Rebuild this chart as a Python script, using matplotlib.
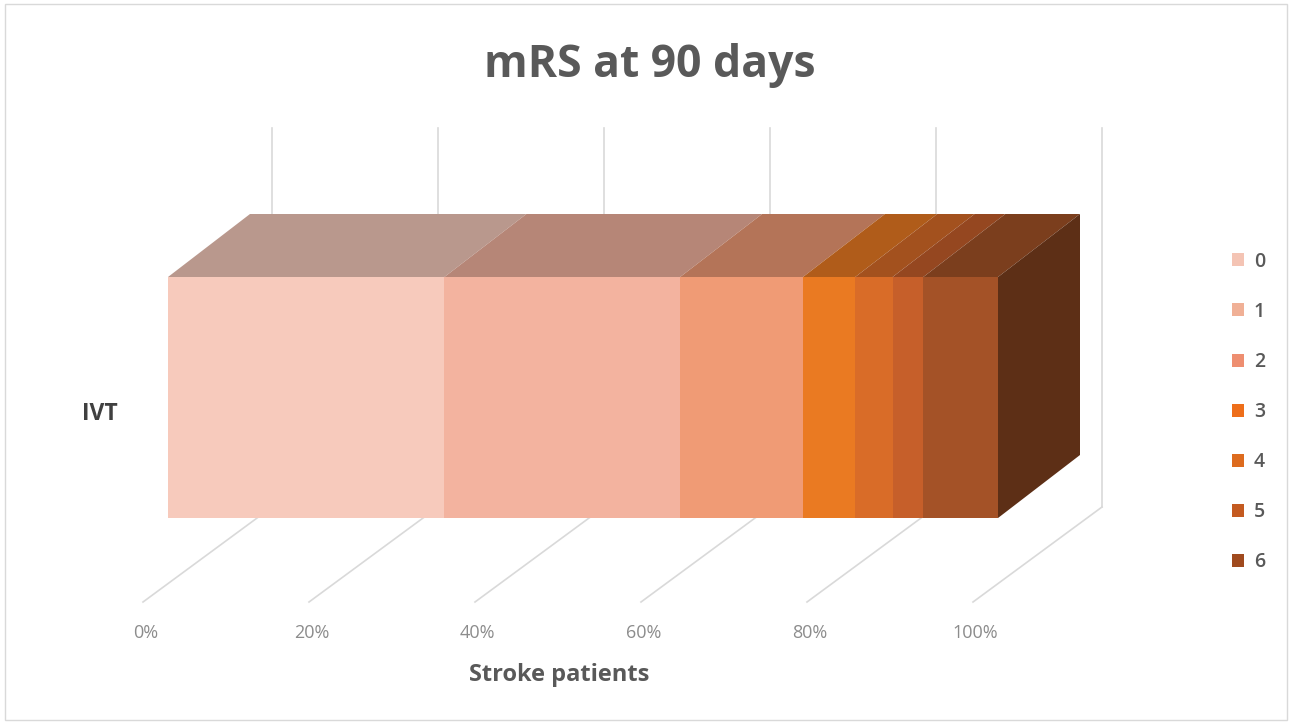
import numpy as np
import matplotlib.pyplot as plt
from matplotlib.patches import Polygon, Patch, Rectangle

# data (share of stroke patients per mRS score at 90 days, %)
categories = ['IVT']
mrs_labels = ['0', '1', '2', '3', '4', '5', '6']
mrs_values = [33.3, 28.4, 14.8, 6.3, 4.5, 3.7, 9.0]
tick_values = [0, 20, 40, 60, 80, 100]
tick_labels = ['0%', '20%', '40%', '60%', '80%', '100%']

front_colors = ['#F7CABC', '#F3B39F', '#F09B75', '#EA7A22', '#D96C28', '#C65F2A', '#A45227']
legend_colors = ['#F4C4B4', '#F0B096', '#EE8E70', '#EE6E1A', '#DD6B1E', '#C45A20', '#A04A1E']


def shade(color, k):
    c = np.array(plt.matplotlib.colors.to_rgb(color))
    return tuple(np.clip(c * k, 0, 1))


plt.rcParams['font.family'] = ['Open Sans', 'DejaVu Sans']

fig = plt.figure(figsize=(12.92, 7.24), dpi=100)
ax = fig.add_axes([0, 0, 1, 1])

# 1% = 8.3 px, bar height 1 = 241 px; front face of bar starts at px 168, centred at px 397.5
px_x = 8.3
px_y = 241.0
ax.set_xlim(-168 / px_x, (1292 - 168) / px_x)
ax.set_ylim(-(724 - 397.5) / px_y, 397.5 / px_y)
ax.axis('off')

# 3d offsets
bar_dx, bar_dy = 82 / px_x, 63 / px_y
wall_dx = 104 / px_x
wall_top = (397.5 - 128) / px_y
wall_bot = (397.5 - 507) / px_y
floor_dx = -25 / px_x
floor_front = (397.5 - 602) / px_y

grid_col = '#D9D9D9'
for t, lab in zip(tick_values, tick_labels):
    ax.plot([t + wall_dx, t + wall_dx], [wall_top, wall_bot], color=grid_col, lw=1.2, zorder=1)
    ax.plot([t + wall_dx, t + floor_dx], [wall_bot, floor_front], color=grid_col, lw=1.2, zorder=1)
    ax.text(t + floor_dx + 0.3, (397.5 - 633) / px_y, lab,
            ha='center', va='center', fontsize=13, color='#8C8C8C')

# bar
y0 = 0
h = 1.0
lefts = np.concatenate([[0], np.cumsum(mrs_values)[:-1]])
top_y = y0 + h / 2
bot_y = y0 - h / 2
for left, val, col in zip(lefts, mrs_values, front_colors):
    right = left + val
    top = Polygon([(left, top_y), (right, top_y), (right + bar_dx, top_y + bar_dy),
                   (left + bar_dx, top_y + bar_dy)], closed=True,
                  facecolor=shade(col, 0.75), edgecolor='none', zorder=3)
    ax.add_patch(top)

ax.barh(y0, mrs_values, left=lefts, height=h, color=front_colors, edgecolor='none', zorder=4)

end = sum(mrs_values)
side = Polygon([(end, bot_y), (end, top_y), (end + bar_dx, top_y + bar_dy),
                (end + bar_dx, bot_y + bar_dy)], closed=True,
               facecolor=shade(front_colors[-1], 0.57), edgecolor='none', zorder=3)
ax.add_patch(side)

# category label
ax.text(-6.0, y0 - 0.07, categories[0], ha='right', va='center', fontsize=16.5,
        fontweight='bold', color='#404040')

# titles
fig.text(0.503, 1 - 65 / 724, 'mRS at 90 days', ha='center', va='center',
         fontsize=32, fontweight='bold', color='#595959')
ax.text(47.1, (397.5 - 675) / px_y, 'Stroke patients', ha='center', va='center',
        fontsize=17, fontweight='bold', color='#595959')

# legend
handles = [Patch(facecolor=c, edgecolor='none') for c in legend_colors]
leg = fig.legend(handles, mrs_labels, loc='center left', bbox_to_anchor=(1214 / 1292, 1 - 412 / 724),
                 frameon=False, fontsize=14, handlelength=0.65, handleheight=0.65,
                 handletextpad=0.5, labelspacing=1.55)
for txt in leg.get_texts():
    txt.set_color('#595959')
    txt.set_fontweight('semibold')

# outer frame
fig.patches.append(Rectangle((0.004, 0.006), 0.992, 0.988, transform=fig.transFigure,
                             fill=False, edgecolor='#D9D9D9', lw=1))

fig.savefig('out.png', dpi=100)
